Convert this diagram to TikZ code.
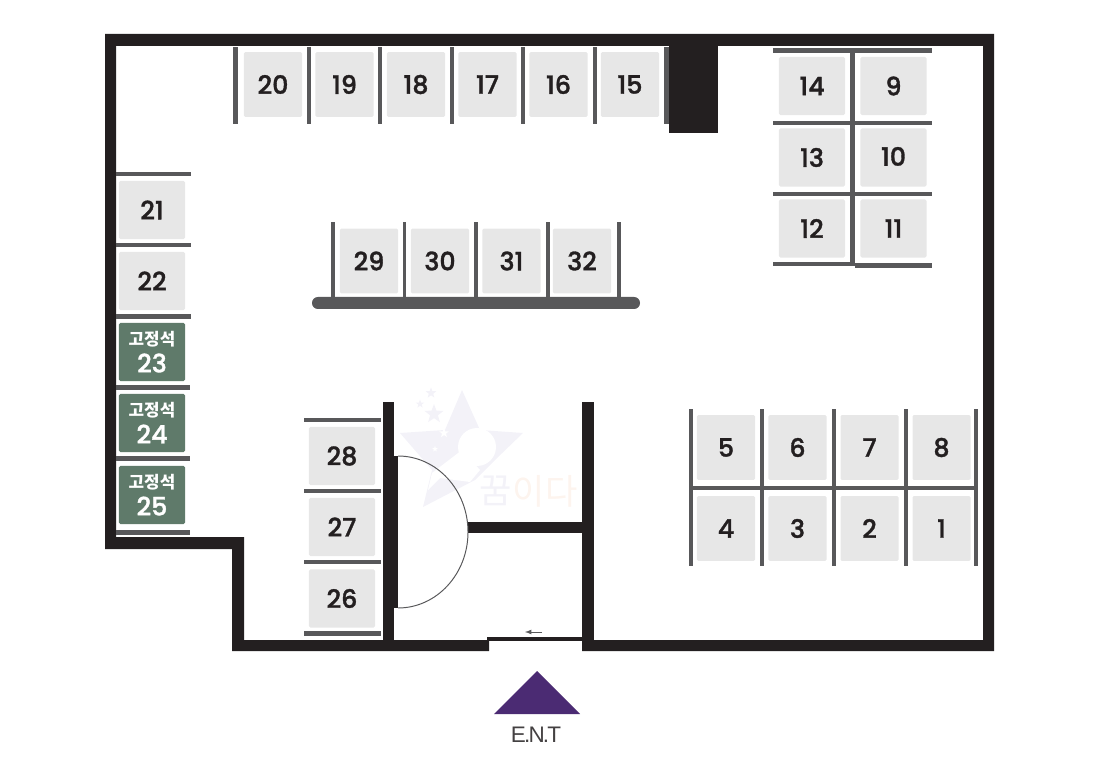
\documentclass[tikz,border=0pt]{standalone}
\usepackage{fontspec}
\setmainfont{Poppins}[BoldFont={Poppins Medium},BoldFeatures={FakeBold=1.3}]
\newfontfamily\krfont{Noto Sans CJK KR}
\newfontfamily\entfont{Liberation Sans}[LetterSpace=-8]
\usetikzlibrary{positioning,shapes.geometric}
\definecolor{wallblack}{HTML}{231F20}
\definecolor{bargray}{HTML}{58585A}
\definecolor{seatgray}{HTML}{E7E7E7}
\definecolor{fixedgreen}{HTML}{5F7A6A}
\definecolor{entpurple}{HTML}{4B2B73}
\definecolor{marklilac}{HTML}{F3F2F8}
\definecolor{markpeach}{HTML}{FDF4EE}
\tikzset{
  wall/.style={fill=wallblack},
  bar/.style={fill=bargray},
  seatbase/.style={rounded corners=1pt, inner sep=0pt, text=wallblack, font=\fontsize{18}{18}\selectfont\bfseries},
  seattall/.style={seatbase, fill=seatgray, minimum width=1.45cm, minimum height=1.62cm},
  seatwide/.style={seatbase, fill=seatgray, minimum width=1.65cm, minimum height=1.45cm},
  seatfixed/.style={seatbase, fill=fixedgreen, text=white, minimum width=1.65cm, minimum height=1.45cm, align=center},
  markstar/.style={star, star points=5, star point ratio=2.4, inner sep=0pt, fill=marklilac}
}
\newcommand{\fixedlabel}[1]{{\krfont\bfseries\fontsize{12}{12}\selectfont 고정석}\\[1pt]{\fontsize{18}{18}\selectfont #1}}
\begin{document}
\begin{tikzpicture}[x=0.025cm,y=-0.025cm]
  \useasboundingbox (0,0) rectangle (1100,761);

  \fill[marklilac] (462,390) -- (480,430) -- (523,433) -- (495,460) -- (475,480) -- (423,507) -- (432,470) -- (400,433) -- (445,430) -- cycle;
  \fill[white] (477,447) circle (19);
  \fill[white] (462,450) -- (480,470) -- (470,482) -- (440,478) -- (428,490) -- (432,473) -- cycle;
  \node[markstar, minimum size=0.28cm] (mstara) at (431,393) {};
  \node[markstar, minimum size=0.22cm] (mstarb) at (420,404) {};
  \node[markstar, minimum size=0.5cm] (mstarc) at (434,414) {};
  \node[markstar, fill=white, minimum size=0.25cm] (mstard) at (444,433) {};
  \node[markstar, fill=white, minimum size=0.15cm] (mstare) at (435,449) {};
  \node[inner sep=0pt, text=marklilac, font=\krfont\fontsize{25}{25}\selectfont] (markkum) at (496,491) {꿈};
  \node[inner sep=0pt, text=markpeach, font=\krfont\fontsize{25}{25}\selectfont, anchor=west] (markida) at (markkum.east) {이다};

  \fill[wall] (105,34) -- (994,34) -- (994,651) -- (582,651) -- (582,640) -- (983,640) -- (983,46) -- (116,46) -- (116,537) -- (244,537) -- (244,640) -- (489,640) -- (489,651) -- (232,651) -- (232,549) -- (105,549) -- cycle;
  \fill[wall] (383,402) rectangle (394,640);
  \fill[wall] (394,456) rectangle (398,608);
  \fill[wall] (582,402) rectangle (594,651);
  \fill[wall] (468,522) rectangle (582,533);
  \fill[wall] (487,637) rectangle (582,641);
  \fill[wall] (669,46) rectangle (718,133);
  \draw[bargray, line width=0.7pt] (398,456) arc[start angle=-90, end angle=90, x radius=70, y radius=76];
  \draw[bargray, line width=0.6pt, -latex] (542,632) -- (525,632);

  \fill[bar] (233,47) rectangle (238,124);
  \fill[bar] (307,47) rectangle (311,124);
  \fill[bar] (378,47) rectangle (382,124);
  \fill[bar] (450,47) rectangle (454,124);
  \fill[bar] (521,47) rectangle (525,124);
  \fill[bar] (593,47) rectangle (597,124);
  \fill[bar] (664,47) rectangle (669,124);
  \node[seattall] (s20) at (273,84.5) {20};
  \node[seattall] (s19) at (344.5,84.5) {19};
  \node[seattall] (s18) at (416,84.5) {18};
  \node[seattall] (s17) at (487.5,84.5) {17};
  \node[seattall] (s16) at (558.5,84.5) {16};
  \node[seattall] (s15) at (630,84.5) {15};

  \fill[bar] (773,48) rectangle (932,53);
  \fill[bar] (773,121) rectangle (932,125);
  \fill[bar] (773,192) rectangle (932,196);
  \fill[bar] (773,262) rectangle (850,266);
  \fill[bar] (855,263) rectangle (932,268);
  \fill[bar] (850,48) rectangle (855,266);
  \node[seatwide] (s14) at (812,86) {14};
  \node[seatwide] (s9) at (893.5,86) {9};
  \node[seatwide] (s13) at (812,157.5) {13};
  \node[seatwide] (s10) at (893.5,157.5) {\raisebox{1.5pt}{10}};
  \node[seatwide] (s12) at (812,228.5) {12};
  \node[seatwide] (s11) at (893.5,228.5) {11};

  \fill[bar] (116,172) rectangle (191,176);
  \fill[bar] (116,243) rectangle (191,247);
  \fill[bar] (116,314) rectangle (191,319);
  \fill[bar] (116,385) rectangle (190,390);
  \fill[bar] (116,456) rectangle (190,461);
  \fill[bar] (116,530) rectangle (190,535);
  \node[seatwide] (s21) at (152,210) {21};
  \node[seatwide] (s22) at (152,281) {22};
  \node[seatfixed] (s23) at (152,352) {\fixedlabel{23}};
  \node[seatfixed] (s24) at (152,423) {\fixedlabel{24}};
  \node[seatfixed] (s25) at (152,495) {\fixedlabel{25}};

  \fill[bar] (331,222) rectangle (335,298);
  \fill[bar] (403,222) rectangle (406,298);
  \fill[bar] (474,222) rectangle (478,298);
  \fill[bar] (546,222) rectangle (550,298);
  \fill[bar] (617,222) rectangle (621,298);
  \fill[bar, rounded corners=4.2pt] (312,297) rectangle (640,309);
  \node[seattall] (s29) at (369,261) {29};
  \node[seattall] (s30) at (440,261) {30};
  \node[seattall] (s31) at (511.5,261) {31};
  \node[seattall] (s32) at (582,261) {32};

  \fill[bar] (304,418) rectangle (381,422);
  \fill[bar] (304,489) rectangle (381,493);
  \fill[bar] (304,560) rectangle (381,564);
  \fill[bar] (304,631) rectangle (381,636);
  \node[seatwide] (s28) at (342,456) {28};
  \node[seatwide] (s27) at (342,527) {27};
  \node[seatwide] (s26) at (342,598.5) {26};

  \fill[bar] (689,409) rectangle (693,566);
  \fill[bar] (760,409) rectangle (764,566);
  \fill[bar] (832,409) rectangle (836,566);
  \fill[bar] (904,409) rectangle (908,566);
  \fill[bar] (974,409) rectangle (978,566);
  \fill[bar] (689,486) rectangle (978,490);
  \node[seattall] (s5) at (726,447.5) {5};
  \node[seattall] (s6) at (797.5,447.5) {6};
  \node[seattall] (s7) at (869.5,447.5) {7};
  \node[seattall] (s8) at (941.5,447.5) {8};
  \node[seattall] (s4) at (726,528.5) {4};
  \node[seattall] (s3) at (797.5,528.5) {3};
  \node[seattall] (s2) at (869.5,528.5) {2};
  \node[seattall] (s1) at (941.5,528.5) {1};

  \fill[entpurple] (494,714) -- (537,671) -- (580,714) -- cycle;
  \node[inner sep=0pt, text=wallblack!85, font=\entfont\fontsize{16}{16}\selectfont] (ent) at (536,735) {E.N.T};
\end{tikzpicture}
\end{document}
